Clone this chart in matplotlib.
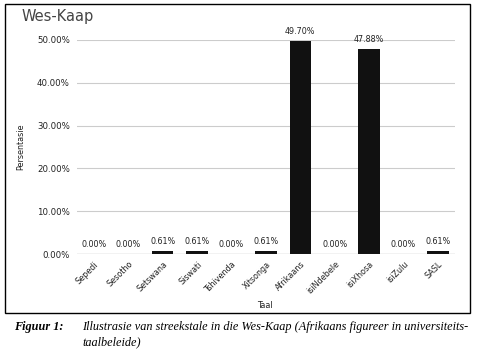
import matplotlib.pyplot as plt
from matplotlib.patches import Rectangle
from matplotlib.ticker import FuncFormatter

## Chart data.
languages = ['Sepedi', 'Sesotho', 'Setswana', 'Siswati', 'Tshivenda', 'Xitsonga',
             'Afrikaans', 'isiNdebele', 'isiXhosa', 'isiZulu', 'SASL']
shares = [0.00, 0.00, 0.61, 0.61, 0.00, 0.61, 49.70, 0.00, 47.88, 0.00, 0.61]
y_ticks = [0, 10, 20, 30, 40, 50]

fig = plt.figure(figsize=(4.8, 3.5), dpi=100)

## Frame around the chart.
fig.patches.append(Rectangle((5 / 480, 1 - 313 / 350), 465 / 480, 309 / 350,
                             transform=fig.transFigure, fill=False,
                             edgecolor='black', linewidth=1.0))

ax = fig.add_axes([0.160, 0.274, 0.788, 0.612])
x = range(len(languages))
ax.bar(x, shares, width=0.62, color='#111111', zorder=3)

for xi, v in zip(x, shares):
  ax.text(xi, v + 1.2, '%.2f%%' % v, ha='center', va='bottom',
          fontsize=5.8, color='#222222', clip_on=False)

ax.set_ylim(0, 50)
ax.set_xlim(-0.5, len(languages) - 0.5)
ax.set_yticks(y_ticks)
ax.yaxis.set_major_formatter(FuncFormatter(lambda v, p: '%.2f%%' % v))
ax.set_xticks(list(x))
ax.set_xticklabels(languages, rotation=45, ha='right', rotation_mode='anchor',
                   fontsize=5.8, color='#222222')
ax.tick_params(axis='y', labelsize=6.2, colors='#222222', length=0, pad=5)
ax.tick_params(axis='x', length=0, pad=4)
ax.grid(axis='y', color='#cccccc', linewidth=0.8, zorder=0)
for s in ax.spines.values():
  s.set_visible(False)
ax.axhline(0, color='#555555', linewidth=0.8, zorder=4)

ax.set_ylabel('Persentasie', fontsize=5.8, color='#222222')
ax.yaxis.set_label_coords(-0.135, 0.5)
fig.text(265 / 480, 1 - 305 / 350, 'Taal', fontsize=5.8, ha='center',
         va='center', color='#222222')

fig.text(22 / 480, 1 - 16 / 350, 'Wes-Kaap', fontsize=10.5, ha='left',
         va='center', color='#444444')

## Caption underneath.
fig.text(14 / 480, 1 - 327 / 350, 'Figuur 1:', fontsize=8.8, family='Liberation Serif',
         style='italic', weight='bold', ha='left', va='center')
fig.text(82 / 480, 1 - 327 / 350,
         'Illustrasie van streekstale in die Wes-Kaap (Afrikaans figureer in universiteits-',
         fontsize=8.8, family='Liberation Serif', style='italic', ha='left', va='center')
fig.text(82 / 480, 1 - 342 / 350, 'taalbeleide)',
         fontsize=8.8, family='Liberation Serif', style='italic', ha='left', va='center')

fig.savefig('out.png', dpi=100)
